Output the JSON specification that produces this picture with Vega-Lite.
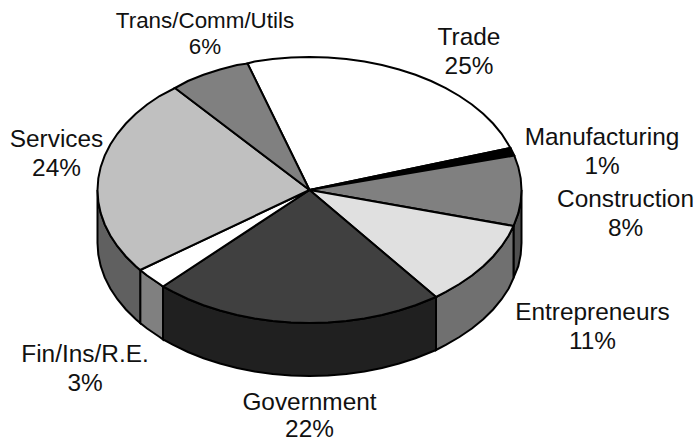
{"$schema":"https://vega.github.io/schema/vega-lite/v6.json","width":696,"height":438,"padding":0,"autosize":{"type":"none"},"background":"white","config":{"view":{"stroke":null}},
"datasets":{"shapes":[
{"s":"w1 Construction wall","p":[[521.5,190],[520.7,201.6],[518.3,213.1],[513.5,226],[513.5,278],[518.3,266.1],[520.7,254.6],[521.5,243],[521.5,190]]},
{"s":"w2 Entrepreneurs wall","p":[[513.5,226],[508.7,235.5],[501.6,246.2],[493.1,256.5],[483.2,266.3],[471.9,275.5],[459.4,284],[445.8,291.9],[436,297],[436,350],[445.8,344.9],[459.4,337],[471.9,328.5],[483.2,319.3],[493.1,309.5],[501.6,299.2],[508.7,288.5],[513.5,278],[513.5,226]]},
{"s":"w3 Government wall","p":[[436,297],[431.1,299],[415.5,305.2],[399.1,310.5],[382,315],[364.4,318.5],[346.3,321],[328,322.5],[309.5,323],[291,322.5],[272.7,321],[254.6,318.5],[237,315],[219.9,310.5],[203.5,305.2],[187.9,299],[173.2,291.9],[163,286.5],[163,339.5],[173.2,344.9],[187.9,352],[203.5,358.2],[219.9,363.5],[237,368],[254.6,371.5],[272.7,374],[291,375.5],[309.5,376],[328,375.5],[346.3,374],[364.4,371.5],[382,368],[399.1,363.5],[415.5,358.2],[431.1,352],[436,350],[436,297]]},
{"s":"w4 Fin wall","p":[[163,286.5],[159.6,284],[147.1,275.5],[140.2,270],[140.2,323],[147.1,328.5],[159.6,337],[163,339.5],[163,286.5]]},
{"s":"w5 Services wall","p":[[140.2,270],[135.8,266.3],[125.9,256.5],[117.4,246.2],[110.3,235.5],[104.7,224.4],[100.7,213.1],[98.3,201.6],[97.5,190],[97.5,243],[98.3,254.6],[100.7,266.1],[104.7,277.4],[110.3,288.5],[117.4,299.2],[125.9,309.5],[135.8,319.3],[140.2,323],[140.2,270]]},
{"s":"t1 Trade","p":[[309.5,190],[247.5,63.5],[254.6,61.5],[272.7,59],[291,57.5],[309.5,57],[328,57.5],[346.3,59],[364.4,61.5],[382,65],[399.1,69.5],[415.5,74.8],[431.1,81],[445.8,88.1],[459.4,96],[471.9,104.5],[483.2,113.7],[493.1,123.5],[501.6,133.8],[510.5,148],[309.5,190]]},
{"s":"t2 Manufacturing","p":[[309.5,190],[510.5,148],[514.3,155.6],[309.5,190]]},
{"s":"t3 Construction","p":[[309.5,190],[514.3,155.6],[518.3,166.9],[520.7,178.4],[521.5,190],[520.7,201.6],[518.3,213.1],[513.5,226],[309.5,190]]},
{"s":"t4 Entrepreneurs","p":[[309.5,190],[513.5,226],[508.7,235.5],[501.6,246.2],[493.1,256.5],[483.2,266.3],[471.9,275.5],[459.4,284],[445.8,291.9],[436,297],[309.5,190]]},
{"s":"t5 Government","p":[[309.5,190],[436,297],[431.1,299],[415.5,305.2],[399.1,310.5],[382,315],[364.4,318.5],[346.3,321],[328,322.5],[309.5,323],[291,322.5],[272.7,321],[254.6,318.5],[237,315],[219.9,310.5],[203.5,305.2],[187.9,299],[173.2,291.9],[163,286.5],[309.5,190]]},
{"s":"t6 Fin","p":[[309.5,190],[163,286.5],[159.6,284],[147.1,275.5],[140.2,270],[309.5,190]]},
{"s":"t7 Services","p":[[309.5,190],[140.2,270],[135.8,266.3],[125.9,256.5],[117.4,246.2],[110.3,235.5],[104.7,224.4],[100.7,213.1],[98.3,201.6],[97.5,190],[98.3,178.4],[100.7,166.9],[104.7,155.6],[110.3,144.5],[117.4,133.8],[125.9,123.5],[135.8,113.7],[147.1,104.5],[159.6,96],[175,88],[309.5,190]]},
{"s":"t8 Trans","p":[[309.5,190],[175,88],[187.9,81],[203.5,74.8],[219.9,69.5],[237,65],[247.5,63.5],[309.5,190]]}
],
"labels":[
{"t":"Trans/Comm/Utils","x":205,"y":28,"k":"small"},{"t":"6%","x":205,"y":54,"k":"small"},
{"t":"Trade","x":469,"y":45,"k":"big"},{"t":"25%","x":469,"y":74,"k":"big"},
{"t":"Manufacturing","x":602,"y":145,"k":"big"},{"t":"1%","x":602,"y":174,"k":"big"},
{"t":"Construction","x":625.5,"y":207,"k":"big"},{"t":"8%","x":625.5,"y":236,"k":"big"},
{"t":"Entrepreneurs","x":592.5,"y":320,"k":"big"},{"t":"11%","x":592.5,"y":349,"k":"big"},
{"t":"Government","x":309.5,"y":410,"k":"big"},{"t":"22%","x":309.5,"y":436.5,"k":"big"},
{"t":"Fin/Ins/R.E.","x":85,"y":362,"k":"big"},{"t":"3%","x":85,"y":391,"k":"big"},
{"t":"Services","x":56.5,"y":147,"k":"big"},{"t":"24%","x":56.5,"y":176,"k":"big"}
]},
"layer":[
{"data":{"name":"shapes"},"transform":[{"flatten":["p"]}],"mark":{"type":"line","stroke":"black","strokeWidth":2,"strokeJoin":"miter","clip":false},
"encoding":{"x":{"field":"p[0]","type":"quantitative","scale":{"domain":[0,696]},"axis":null},"y":{"field":"p[1]","type":"quantitative","scale":{"domain":[438,0]},"axis":null},"detail":{"field":"s"},"order":{"field":"i","type":"quantitative"},
"fill":{"field":"s","type":"nominal","legend":null,"scale":{"domain":["w1 Construction wall","w2 Entrepreneurs wall","w3 Government wall","w4 Fin wall","w5 Services wall","t1 Trade","t2 Manufacturing","t3 Construction","t4 Entrepreneurs","t5 Government","t6 Fin","t7 Services","t8 Trans"],"range":["#505050","#707070","#202020","#808080","#606060","#ffffff","#000000","#808080","#e0e0e0","#404040","#ffffff","#c0c0c0","#808080"]}}}},
{"data":{"name":"labels"},"mark":{"type":"text","font":"Liberation Sans","align":"center","baseline":"alphabetic","color":"#111111"},
"encoding":{"x":{"field":"x","type":"quantitative","scale":{"domain":[0,696]},"axis":null},"y":{"field":"y","type":"quantitative","scale":{"domain":[438,0]},"axis":null},"text":{"field":"t"},"size":{"field":"k","type":"nominal","legend":null,"scale":{"domain":["small","big"],"range":[22.4,24.4]}}}}
]}
